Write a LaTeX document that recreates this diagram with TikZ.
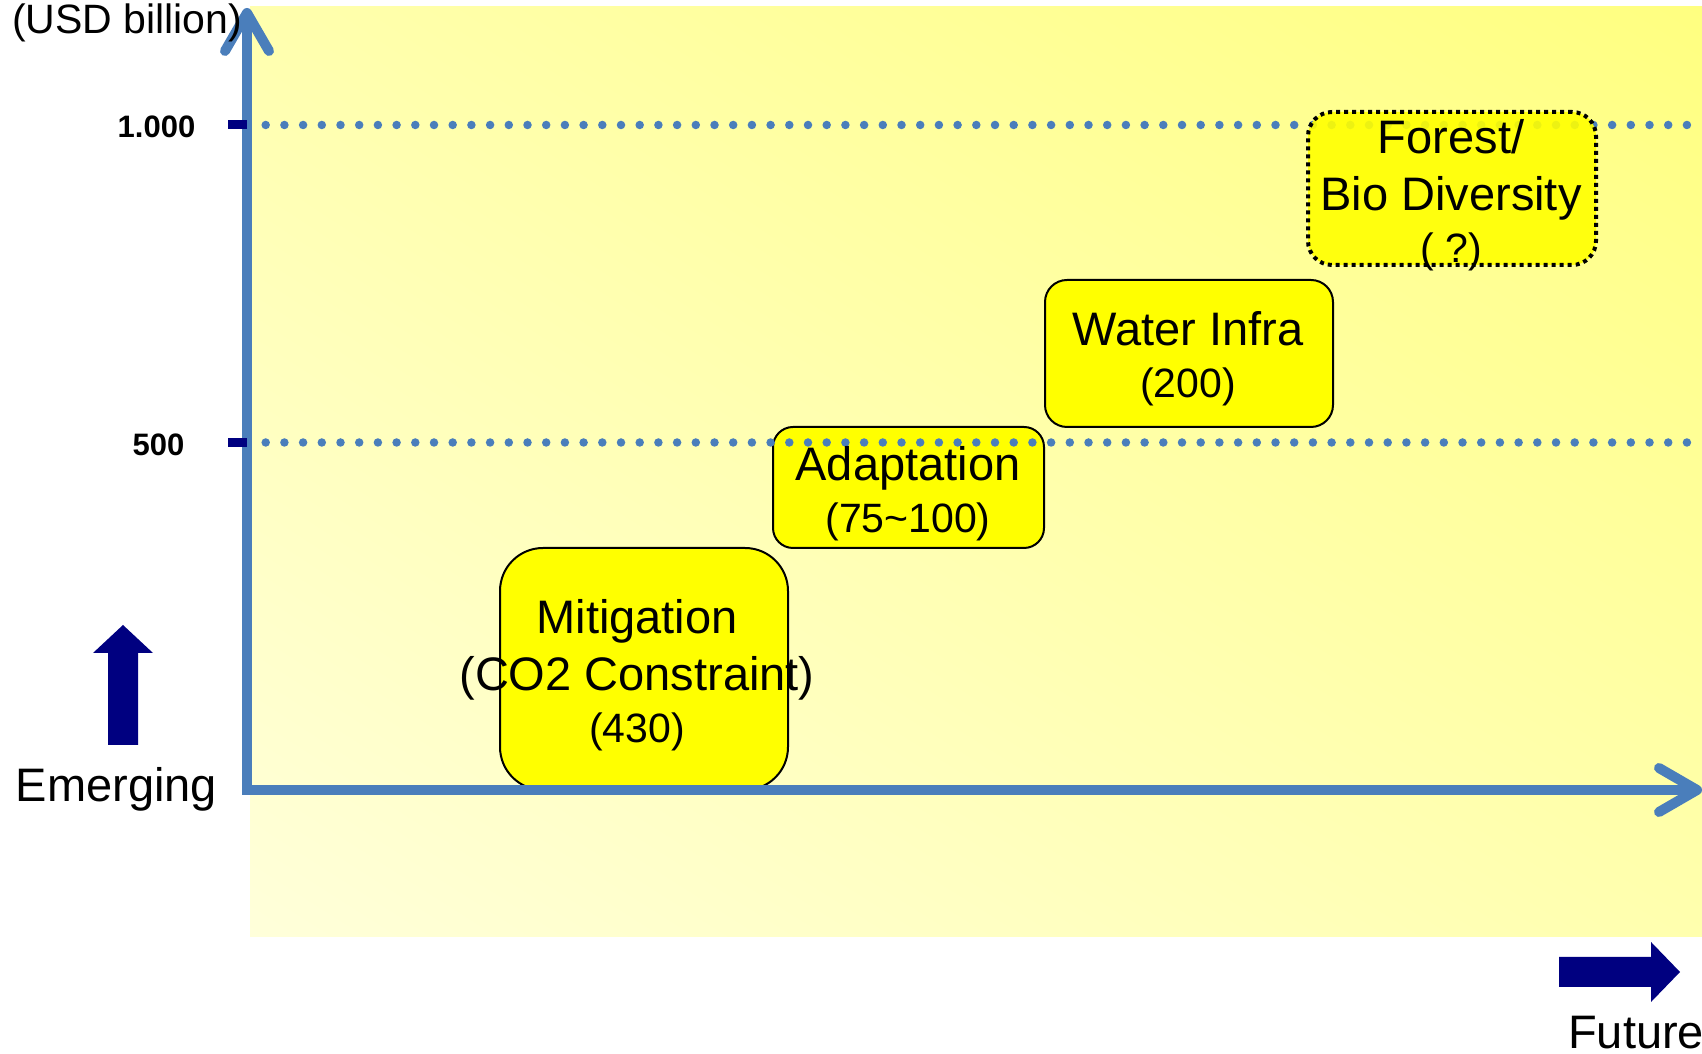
\documentclass[tikz,border=0pt]{standalone}
\usepackage{fontspec}
\setmainfont{Liberation Sans}
\usetikzlibrary{arrows.meta,shadings}
\definecolor{axisblue}{HTML}{4A7EBB}
\definecolor{navyarrow}{HTML}{000080}
\definecolor{boxyellow}{HTML}{FFFF00}
\definecolor{bglow}{HTML}{FFFFDA}
\definecolor{bgmid}{HTML}{FFFFAE}
\definecolor{bghigh}{HTML}{FFFF80}
\newcommand{\numsize}{\fontsize{41}{49}\selectfont}

\begin{document}
\begin{tikzpicture}[x=1pt, y=1pt, >={Straight Barb[length=38pt, width=44pt, round]},
  box/.style={draw=black, line width=2pt, fill=boxyellow, inner sep=0pt},
  boxtext/.style={align=center, inner sep=0pt, font=\fontsize{47}{57}\selectfont},
  level/.style={axisblue, line width=8.5pt, line cap=round, dash pattern=on 0pt off 18.7pt},
  tick/.style={navyarrow, line width=9pt}]
\useasboundingbox (0,0) rectangle (1702,1054);
\shade[lower left=bglow, upper left=bgmid, lower right=bgmid, upper right=bghigh] (250,117) rectangle (1702,1047);

\coordinate (origin) at (247,264);
\coordinate (ytop) at (247,1046);
\coordinate (xend) at (1702,264);
\coordinate (l1000) at (247,929);
\coordinate (l500) at (247,611.5);

\draw[level] (l1000) -- (1702,929);

\node[box, rounded corners=43pt, minimum width=288pt, minimum height=242pt] (mitigation) at (644,385) {};
\node[box, rounded corners=20pt, minimum width=271pt, minimum height=121pt] (adaptation) at (908.5,566.5) {};
\node[box, rounded corners=22pt, minimum width=288pt, minimum height=147pt] (water) at (1189,700.5) {};
\node[box, rounded corners=24pt, minimum width=288pt, minimum height=153pt, fill opacity=0.9, line width=4pt, dash pattern=on 4pt off 4pt] (forest) at (1452,865.5) {};

\draw[level] (l500) -- (1702,611.5);

\draw[axisblue, line width=10pt, <->] (ytop) -- (origin) -- (xend);

\draw[tick] (l1000) -- ++(-19,0);
\draw[tick] (l500) -- ++(-19,0);

\node[boxtext] (mitigationtxt) at (637,379) {Mitigation\\(CO2 Constraint)\\[-5pt]{\numsize (430)}};
\node[boxtext] (adaptationtxt) at (908,560) {Adaptation\\[-5pt]{\numsize (75\textasciitilde 100)}};
\node[boxtext] (watertxt) at (1188,695) {Water Infra\\[-5pt]{\numsize (200)}};
\node[boxtext] (foresttxt) at (1451,859) {Forest/\\Bio Diversity\\[-5pt]{\numsize ( ?)}};

\node[anchor=base, inner sep=0pt, font=\bfseries\fontsize{31}{37}\selectfont] (v1000) at (156.5,916) {1.000};
\node[anchor=base, inner sep=0pt, font=\bfseries\fontsize{31}{37}\selectfont] (v500) at (158.5,598) {500};
\node[anchor=base west, inner sep=0pt, font=\fontsize{41}{49}\selectfont] (unit) at (12,1020) {(USD billion)};

\fill[navyarrow] (108,309) -- ++(30,0) -- ++(0,92) -- ++(15,0) -- ++(-30,28) -- ++(-30,-28) -- ++(15,0) -- cycle;
\node[anchor=base, inner sep=0pt, font=\fontsize{47}{57}\selectfont] (emerging) at (116.5,252) {Emerging};
\fill[navyarrow] (1559,67) -- ++(92,0) -- ++(0,-15) -- ++(29,30) -- ++(-29,30) -- ++(0,-15) -- ++(-92,0) -- cycle;
\node[anchor=base west, inner sep=0pt, font=\fontsize{47}{57}\selectfont] (future) at (1568,5) {Future};
\end{tikzpicture}
\end{document}
